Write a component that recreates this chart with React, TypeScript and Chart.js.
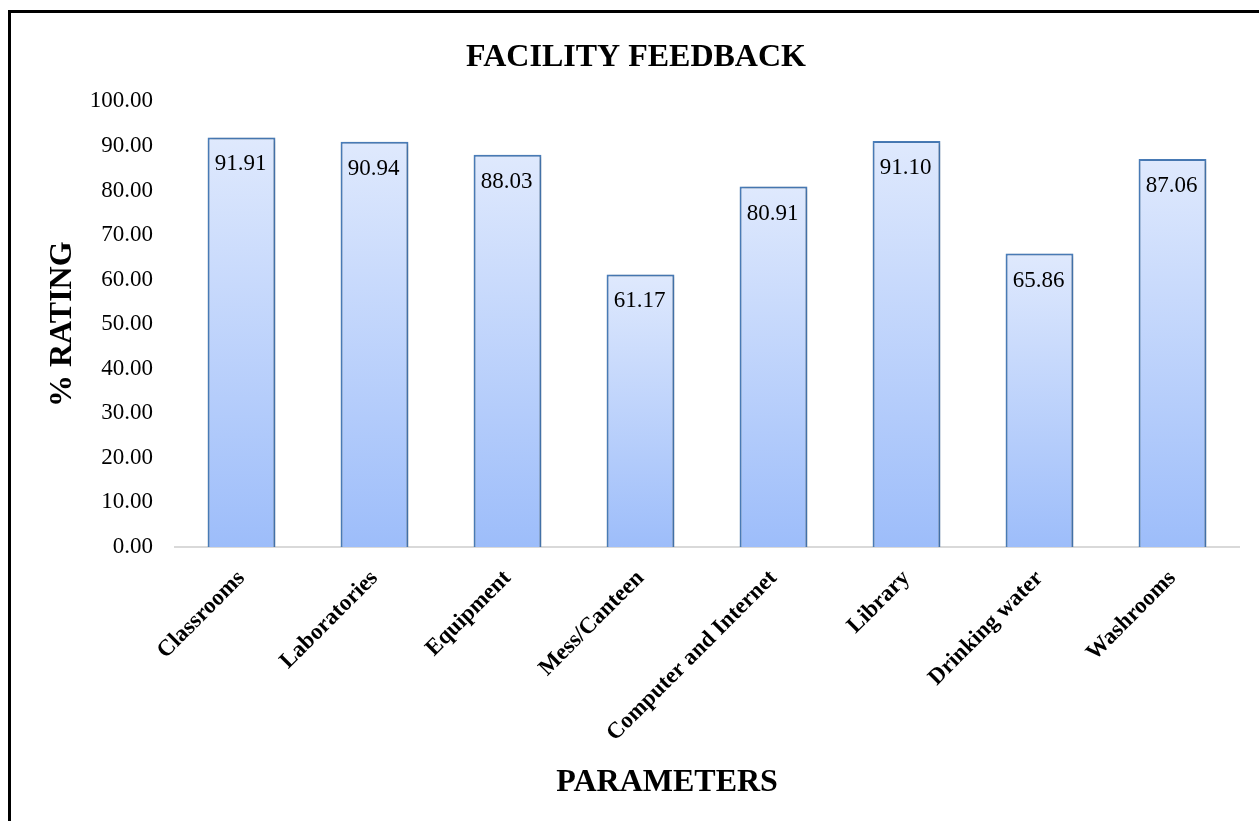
import React, { useEffect, useRef } from "react";
import { Chart, registerables } from "chart.js";

Chart.register(...registerables);

const chartTitle = "FACILITY FEEDBACK";
const xAxisTitle = "PARAMETERS";
const yAxisTitle = "% RATING";
const categories = [
  "Classrooms",
  "Laboratories",
  "Equipment",
  "Mess/Canteen",
  "Computer and Internet",
  "Library",
  "Drinking water",
  "Washrooms",
];
const ratings = [91.91, 90.94, 88.03, 61.17, 80.91, 91.1, 65.86, 87.06];
const yMin = 0;
const yMax = 100;
const yStep = 10;

const SERIF = '"Liberation Serif", "Times New Roman", Times, serif';

export default function App() {
  const ref = useRef<HTMLCanvasElement>(null);

  useEffect(() => {
    const canvas = ref.current;
    if (!canvas) return;

    const barShadow = {
      id: "barShadow",
      beforeDatasetsDraw(chart: any) {
        const ctx = chart.ctx;
        ctx.save();
        ctx.shadowColor = "rgba(0,0,0,0.28)";
        ctx.shadowBlur = 4;
        ctx.shadowOffsetX = 1;
        ctx.shadowOffsetY = 1;
      },
      afterDatasetsDraw(chart: any) {
        chart.ctx.restore();
      },
    };

    const valueLabels = {
      id: "valueLabels",
      afterDatasetsDraw(chart: any) {
        const ctx = chart.ctx;
        const meta = chart.getDatasetMeta(0);
        ctx.save();
        ctx.font = `23px ${SERIF}`;
        ctx.fillStyle = "#000";
        ctx.textAlign = "center";
        ctx.textBaseline = "middle";
        meta.data.forEach((bar: any, i: number) => {
          ctx.fillText(ratings[i].toFixed(2), bar.x - 1, bar.y + 27);
        });
        ctx.restore();
      },
    };

    const xTitlePlugin = {
      id: "xTitlePlugin",
      afterDraw(chart: any) {
        const ctx = chart.ctx;
        const a = chart.chartArea;
        ctx.save();
        ctx.font = `bold 32px ${SERIF}`;
        ctx.fillStyle = "#000";
        ctx.textAlign = "center";
        ctx.textBaseline = "middle";
        ctx.fillText(xAxisTitle, a.left + (a.right - a.left) * 0.4625, chart.height - 38);
        ctx.restore();
      },
    };

    const chart = new Chart(canvas, {
      type: "bar",
      data: {
        labels: categories,
        datasets: [
          {
            data: ratings,
            backgroundColor: (c: any) => {
              const ch = c.chart;
              const y = ch.scales && ch.scales.y;
              if (!y || c.type !== "data") return "#c4d7fb";
              const top = y.getPixelForValue(c.raw);
              const bottom = y.getPixelForValue(0);
              if (!Number.isFinite(top) || !Number.isFinite(bottom) || top === bottom)
                return "#c4d7fb";
              const g = ch.ctx.createLinearGradient(0, top, 0, bottom);
              g.addColorStop(0, "#dfe9fd");
              g.addColorStop(1, "#9dbdfa");
              return g;
            },
            borderColor: "#4a7ebb",
            borderWidth: 2,
            barPercentage: 0.51,
            categoryPercentage: 1,
          },
        ],
      },
      options: {
        responsive: false,
        animation: false,
        devicePixelRatio: 1,
        layout: { padding: { left: 13, right: 0, top: 0, bottom: 0 } },
        plugins: {
          legend: { display: false },
          tooltip: { enabled: false },
          title: {
            display: true,
            text: chartTitle,
            color: "#000",
            font: { family: SERIF, size: 32, weight: "bold" },
            padding: { top: 39, bottom: 24 },
          },
        },
        scales: {
          x: {
            grid: { display: false, drawTicks: false },
            border: { display: true, color: "#d9d9d9", width: 2 },
            ticks: {
              color: "#000",
              font: { family: SERIF, size: 23, weight: "bold" },
              minRotation: 45,
              maxRotation: 45,
              autoSkip: false,
              padding: 18,
            },
            afterFit: (s: any) => {
              s.height = 274;
            },
          },
          y: {
            min: yMin,
            max: yMax,
            grid: { display: false, drawTicks: false },
            border: { display: false },
            ticks: {
              stepSize: yStep,
              color: "#000",
              font: { family: SERIF, size: 23 },
              padding: 22,
              callback: (v: any) => Number(v).toFixed(2),
            },
            title: {
              display: true,
              text: yAxisTitle,
              color: "#000",
              font: { family: SERIF, size: 32, weight: "bold" },
              padding: { top: 31, bottom: 0 },
            },
            afterFit: (s: any) => {
              s.width = 162;
            },
          },
          yRight: {
            type: "linear",
            position: "right",
            display: true,
            grid: { display: false, drawTicks: false },
            border: { display: false },
            ticks: { display: false },
            afterFit: (s: any) => {
              s.width = 20;
            },
          },
        },
      },
      plugins: [barShadow, valueLabels, xTitlePlugin],
    } as any);

    return () => chart.destroy();
  }, []);

  return (
    <div
      style={{
        position: "fixed",
        left: 0,
        top: 0,
        width: "100vw",
        height: "100vh",
        overflow: "hidden",
        background: "#fff",
      }}
    >
      <div
        style={{
          position: "absolute",
          left: 8,
          top: 10,
          width: 1400,
          height: 1000,
          border: "3px solid #000",
          boxSizing: "border-box",
        }}
      />
      <canvas
        ref={ref}
        width={1259}
        height={821}
        style={{ position: "absolute", left: 0, top: 0, width: 1259, height: 821 }}
      />
    </div>
  );
}
